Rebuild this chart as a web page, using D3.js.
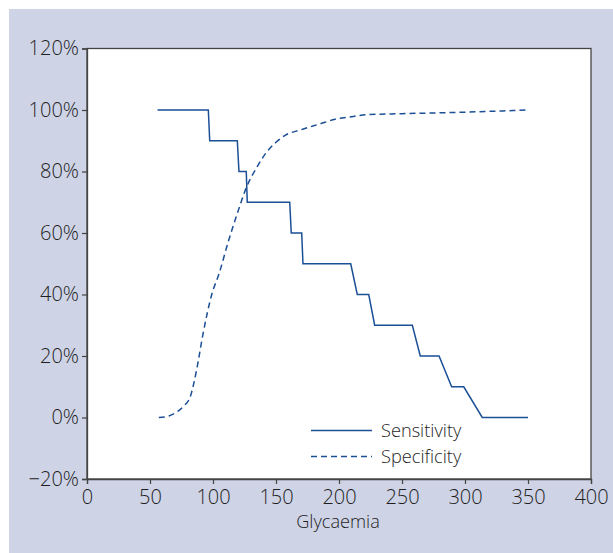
<!DOCTYPE html>
<html><head><meta charset="utf-8">
<script src="https://cdn.jsdelivr.net/npm/d3@7/dist/d3.min.js"></script>
<style>
html,body{margin:0;padding:0;background:#fff;}
svg{display:block;}
text{font-family:"Open Sans",sans-serif;fill:#1e1e1e;}
</style></head>
<body>
<script>
// ---- data ----
const sensX = [56, 96.3, 97.4, 119.3, 120.6, 126.4, 127.2, 160.9, 162.1, 170.4, 171.4, 209.3, 214.5, 223.6, 228.3, 258.2, 264.5, 279.4, 289.4, 299, 313.7, 350];
const sensY = [100, 100, 90, 90, 80, 80, 70, 70, 60, 60, 50, 50, 40, 40, 30, 30, 20, 20, 10, 10, 0, 0];
const specX = [57, 65, 72, 77, 82, 87, 92, 99, 105, 112, 119, 127, 135, 142, 150, 157, 170, 185, 197, 210, 222, 250, 300, 350];
const specY = [0, 0.5, 2, 3.8, 6.8, 15.5, 27, 40, 47, 57, 66, 75.3, 81.5, 86, 89.5, 91.7, 93.6, 95.5, 97, 97.8, 98.5, 98.8, 99.3, 100];
const xTicks = [0, 50, 100, 150, 200, 250, 300, 350, 400];
const yTicks = [-20, 0, 20, 40, 60, 80, 100, 120];
const seriesNames = ["Sensitivity", "Specificity"];
const xLabel = "Glycaemia";

const W = 613, H = 553;
const color = "#1b4f96";
const svg = d3.select("body").append("svg").attr("width", W).attr("height", H);

svg.append("rect").attr("x", 9).attr("y", 9).attr("width", W - 9).attr("height", H - 9).attr("fill", "#ced3e6");

const L = 87, R = 591, T = 48.5, B = 479;
const x = d3.scaleLinear().domain([0, 400]).range([L, R]);
const y = d3.scaleLinear().domain([-20, 120]).range([B, T]);

svg.append("rect").attr("x", L).attr("y", T).attr("width", R - L).attr("height", B - T)
  .attr("fill", "#fff").attr("stroke", "#444").attr("stroke-width", 1.3);

const xAxis = svg.append("g").attr("transform", `translate(0,${B})`)
  .call(d3.axisBottom(x).tickValues(xTicks).tickSize(5).tickPadding(2).tickFormat(d3.format("d")));
const yAxis = svg.append("g").attr("transform", `translate(${L},0)`)
  .call(d3.axisLeft(y).tickValues(yTicks).tickSize(5).tickPadding(3)
    .tickFormat(d => (d < 0 ? "\u2212" + Math.abs(d) : d) + "%"));
[xAxis, yAxis].forEach(g => {
  g.select(".domain").attr("stroke", "#444").attr("stroke-width", 1.3);
  g.selectAll(".tick line").attr("stroke", "#444").attr("stroke-width", 1.2);
  g.selectAll(".tick text").attr("font-size", 20).attr("fill", "#1e1e1e")
    .style("font-family", '"Open Sans",sans-serif').style("font-weight", 300);
});
xAxis.selectAll(".tick text").attr("dy", "0.92em");

const line = d3.line().x(d => x(d[0])).y(d => y(d[1]));
const sens = sensX.map((v, i) => [v, sensY[i]]);
const spec = specX.map((v, i) => [v, specY[i]]);

svg.append("path").attr("d", line(sens)).attr("fill", "none").attr("stroke", color).attr("stroke-width", 1.5);
svg.append("path").attr("d", line.curve(d3.curveMonotoneX)(spec)).attr("fill", "none").attr("stroke", color)
  .attr("stroke-width", 1.5).attr("stroke-dasharray", "6,4");

// legend
const lg = svg.append("g");
[[430.5, null], [456.5, "6,4"]].forEach((s, i) => {
  lg.append("line").attr("x1", 311).attr("x2", 372).attr("y1", s[0]).attr("y2", s[0])
    .attr("stroke", color).attr("stroke-width", 1.5).attr("stroke-dasharray", s[1]);
  lg.append("text").attr("x", 381).attr("y", s[0] + 6.5).attr("font-size", 18.2)
    .style("font-weight", 300).text(seriesNames[i]);
});

svg.append("text").attr("x", (L + R) / 2 - 1).attr("y", 528).attr("text-anchor", "middle")
  .attr("font-size", 18.2).style("font-weight", 300).text(xLabel);
</script>
</body></html>
